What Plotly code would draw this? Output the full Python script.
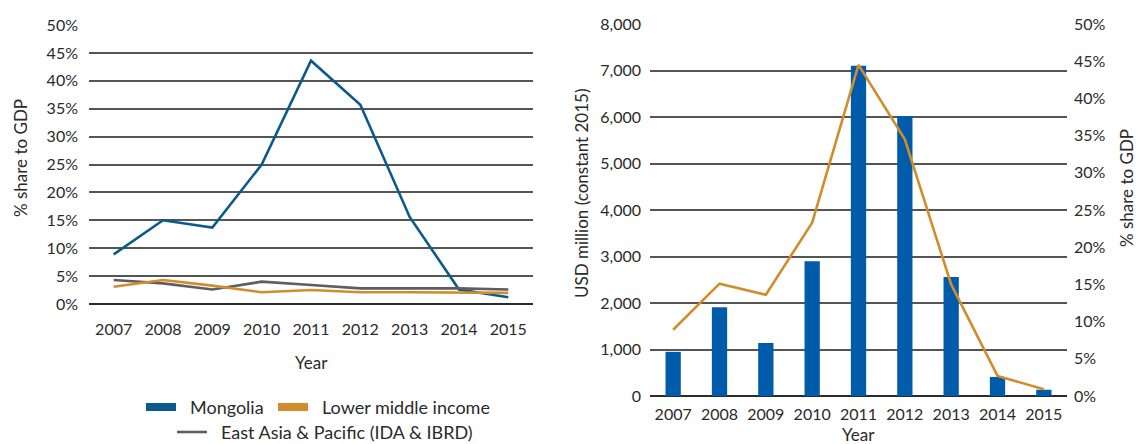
import plotly.graph_objects as go

# Years on both panels
years = ["2007", "2008", "2009", "2010", "2011", "2012", "2013", "2014", "2015"]

# Left panel: FDI net inflows, % share to GDP
mongolia_share = [8.9, 15.0, 13.7, 25.0, 43.6, 35.7, 15.6, 2.6, 1.2]
lower_middle_share = [3.1, 4.3, 3.3, 2.1, 2.5, 2.1, 2.1, 2.1, 2.0]
east_asia_share = [4.3, 3.7, 2.6, 4.0, 3.4, 2.8, 2.8, 2.8, 2.6]

# Right panel: Mongolia FDI, USD million (constant 2015) and % share to GDP
mongolia_usd = [950, 1910, 1140, 2900, 7100, 6020, 2560, 410, 135]
mongolia_share_right = [8.9, 15.1, 13.6, 23.3, 44.5, 34.5, 15.0, 2.7, 0.9]

pct_ticks = list(range(0, 55, 5))
usd_ticks = list(range(0, 9000, 1000))

W, H = 1137, 444
BLUE_LINE = "#0a5a8c"
ORANGE = "#d18d2c"
GREY = "#5e5e5e"
BAR_BLUE = "#005baa"
GRID = "#555555"
TEXT = "#2a2a2a"
FONT = "Lato"


def px(x):
    return x / W


def py(y):
    return 1 - y / H


fig = go.Figure()

fig.add_trace(go.Scatter(x=years, y=mongolia_share, mode="lines", name="Mongolia",
                         line=dict(color=BLUE_LINE, width=2.6), xaxis="x", yaxis="y"))
fig.add_trace(go.Scatter(x=years, y=east_asia_share, mode="lines",
                         name="East Asia & Pacific (IDA & IBRD)",
                         line=dict(color=GREY, width=2.6), xaxis="x", yaxis="y"))
fig.add_trace(go.Scatter(x=years, y=lower_middle_share, mode="lines", name="Lower middle income",
                         line=dict(color=ORANGE, width=2.6), xaxis="x", yaxis="y"))

fig.add_trace(go.Bar(x=years, y=mongolia_usd, marker=dict(color=BAR_BLUE, line=dict(width=0)),
                     name="USD million", xaxis="x2", yaxis="y2"))
fig.add_trace(go.Scatter(x=years, y=mongolia_share_right, mode="lines", name="% share to GDP",
                         line=dict(color=ORANGE, width=2.6), xaxis="x2", yaxis="y3"))

tickfont = dict(family=FONT, size=16, color=TEXT)

fig.update_layout(
    width=W, height=H,
    margin=dict(l=0, r=0, t=0, b=0, pad=0, autoexpand=False),
    paper_bgcolor="white", plot_bgcolor="white",
    showlegend=False,
    bargap=0.67,
    font=dict(family=FONT, color=TEXT),
    xaxis=dict(domain=[px(89), px(533)], type="category", range=[-0.5, 8.5], showgrid=False,
               tickfont=tickfont, ticks="", ticklabelstandoff=14, anchor="y",
               automargin=False),
    yaxis=dict(domain=[py(304), py(25)], range=[0, 50], tickvals=pct_ticks,
               ticktext=[f"{v}%" for v in pct_ticks], showgrid=True, gridcolor=GRID,
               gridwidth=1.7, zeroline=True, zerolinecolor="#2b2b2b", zerolinewidth=1.8,
               tickfont=tickfont, ticks="", ticklabelstandoff=10, anchor="x",
               automargin=False),
    xaxis2=dict(domain=[px(650), px(1067)], type="category", range=[-0.5, 8.5],
                showgrid=False, tickfont=tickfont, ticks="", ticklabelstandoff=7,
                anchor="y2", automargin=False),
    yaxis2=dict(domain=[py(396), py(24)], range=[0, 8000], tickvals=usd_ticks,
                ticktext=[f"{v:,}" for v in usd_ticks], showgrid=True, gridcolor=GRID,
                gridwidth=1.7, zeroline=True, zerolinecolor="#2b2b2b", zerolinewidth=1.8,
                tickfont=tickfont, ticks="", ticklabelstandoff=8, anchor="x2",
                automargin=False),
    yaxis3=dict(domain=[py(396), py(24)], range=[0, 50], tickvals=pct_ticks,
                ticktext=[f"{v}%" for v in pct_ticks], overlaying="y2", side="right",
                showgrid=False, zeroline=False, tickfont=tickfont, ticks="",
                ticklabelstandoff=6, anchor="x2", automargin=False),
)

titlefont = dict(family=FONT, size=17, color=TEXT)
annotations = [
    dict(text="Year", x=px(311), y=py(362)),
    dict(text="Year", x=px(858), y=py(434)),
    dict(text="% share to GDP", x=px(21), y=py(158), textangle=-90),
    dict(text="USD million (constant 2015)", x=px(581), y=py(194), textangle=-90),
    dict(text="% share to GDP", x=px(1126), y=py(188), textangle=-90),
]
for a in annotations:
    fig.add_annotation(xref="paper", yref="paper", showarrow=False, font=titlefont,
                       xanchor="center", yanchor="middle", **a)

# Legend for the left panel
legendfont = dict(family=FONT, size=18, color=TEXT)
legend_items = [
    ("rect", BLUE_LINE, 146, 176, 407, "Mongolia", 188),
    ("rect", ORANGE, 278, 308, 407, "Lower middle income", 320),
    ("line", GREY, 177, 207, 432, "East Asia & Pacific (IDA & IBRD)", 219),
]
for kind, color, x0, x1, yc, label, tx in legend_items:
    if kind == "rect":
        fig.add_shape(type="rect", xref="paper", yref="paper", x0=px(x0), x1=px(x1),
                      y0=py(yc + 4), y1=py(yc - 4), fillcolor=color, line=dict(width=0))
    else:
        fig.add_shape(type="line", xref="paper", yref="paper", x0=px(x0), x1=px(x1),
                      y0=py(yc), y1=py(yc), line=dict(color=color, width=2.6))
    fig.add_annotation(xref="paper", yref="paper", x=px(tx), y=py(yc), text=label,
                       showarrow=False, xanchor="left", yanchor="middle", font=legendfont)

fig.write_html("out.html")
